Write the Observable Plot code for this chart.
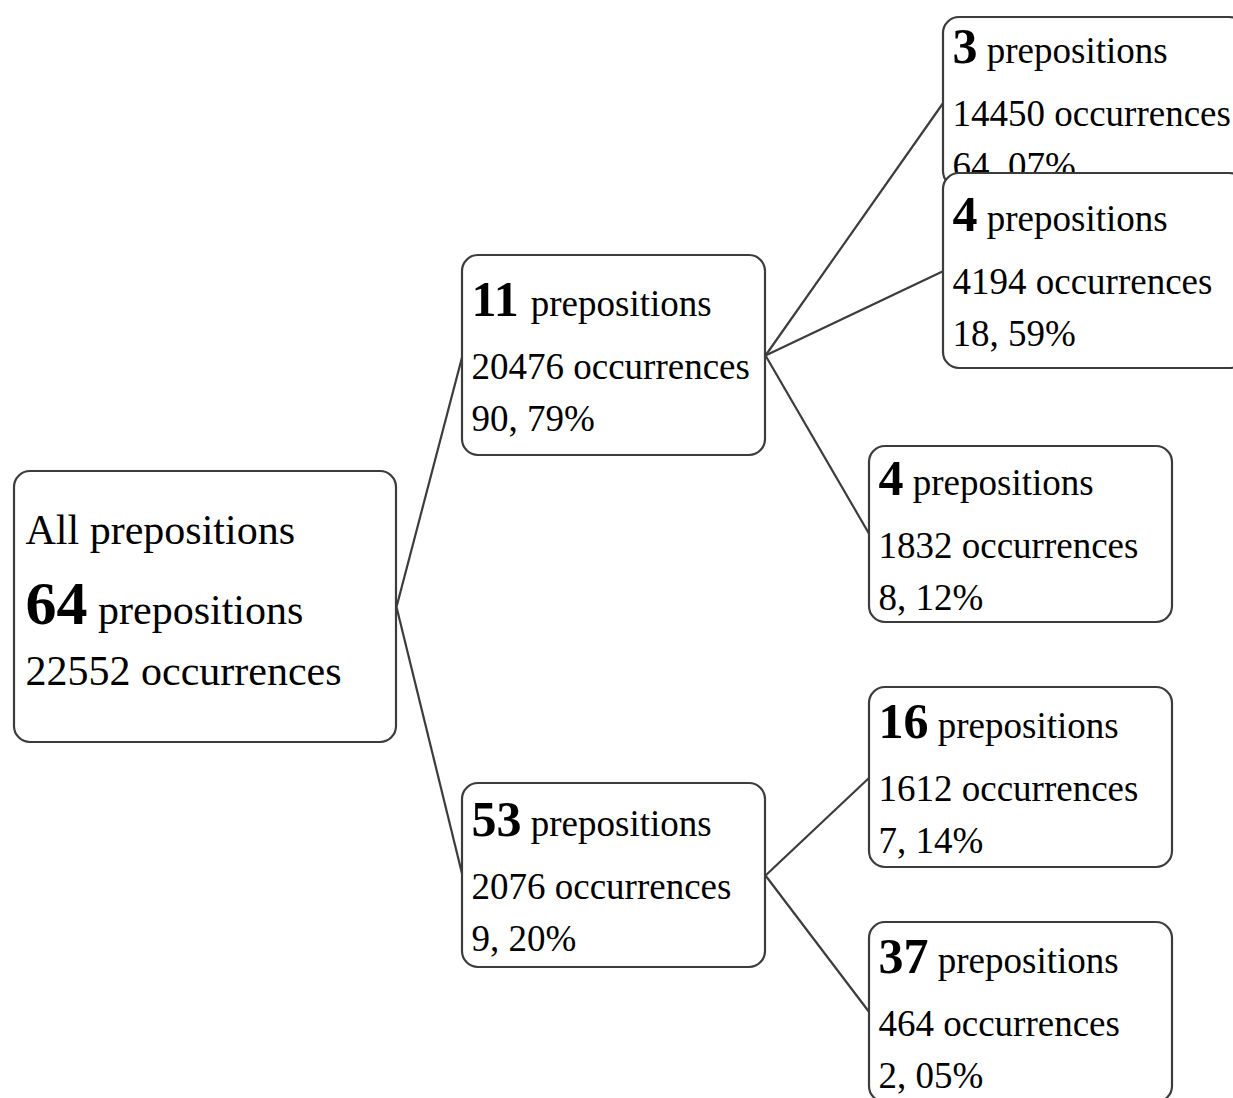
<!DOCTYPE html>
<html>
<head>
<meta charset="utf-8">
<script src="https://cdn.jsdelivr.net/npm/d3@7"></script>
<script src="https://cdn.jsdelivr.net/npm/@observablehq/plot@0.6"></script>
<style>
  html, body { margin: 0; padding: 0; background: white; overflow: hidden; }
  #chart svg { display: block; }
  #chart svg text { font-family: "Times New Roman", Times, "Liberation Serif", Tinos, "Nimbus Roman", serif; }
</style>
</head>
<body>
<div id="chart"></div>
<script>
// ---- data ----
const nodeIds     = ["all", "n11", "n53", "n3", "n4a", "n4b", "n16", "n37"];
const parentIds   = [null, "all", "all", "n11", "n11", "n11", "n53", "n53"];
const prepCounts  = [64, 11, 53, 3, 4, 4, 16, 37];
const occurrences = [22552, 20476, 2076, 14450, 4194, 1832, 1612, 464];
const shares      = [null, 90.79, 9.20, 64.07, 18.59, 8.12, 7.14, 2.05];
const rootTitle   = "All prepositions";

// ---- layout (box edges in page pixels) ----
const boxLeft   = [14, 462, 462, 943, 943, 869, 869, 869];
const boxRight  = [396, 765, 765, 1245, 1245, 1172, 1172, 1172];
const boxTop    = [471, 255, 783, 17, 173, 446, 687, 922];
const boxBottom = [742, 455, 967, 187, 368, 622, 867, 1102];

const W = 1233, H = 1098;
const ink = "#3c3c3c";
const font = "Times New Roman, Times, Liberation Serif, Tinos, Nimbus Roman, serif";

const nodes = nodeIds.map((id, i) => ({
  id, parent: parentIds[i], count: prepCounts[i], occ: occurrences[i], share: shares[i],
  x1: boxLeft[i], x2: boxRight[i], y1: boxTop[i], y2: boxBottom[i],
  cy: (boxTop[i] + boxBottom[i]) / 2, root: i === 0
}));
const byId = new Map(nodes.map(d => [d.id, d]));
const links = nodes.filter(d => d.parent).map(d => {
  const p = byId.get(d.parent);
  return {x1: p.x2, y1: p.cy, x2: d.x1, y2: d.cy};
});

const fmtShare = v => v.toFixed(2).replace(".", ", ") + "%";

const marks = [
  Plot.link(links, {x1: "x1", y1: "y1", x2: "x2", y2: "y2", stroke: ink, strokeWidth: 2.2})
];

for (const d of nodes) {
  marks.push(Plot.rect([d], {x1: "x1", x2: "x2", y1: "y1", y2: "y2", rx: 16, ry: 16,
    fill: "white", stroke: ink, strokeWidth: 2.2}));
  const pad = d.root ? 11 : 9;
  const normalSize = d.root ? 42 : 37;
  const boldSize = d.root ? 62 : 50;
  let normal, bold;
  const numW = String(d.count).length * 0.5 * boldSize + 0.25 * normalSize;
  if (d.root) {
    normal = [
      {x: d.x1 + pad, y: d.cy - 63, t: rootTitle},
      {x: d.x1 + pad + numW, y: d.cy + 17, t: "prepositions"},
      {x: d.x1 + pad, y: d.cy + 78, t: `${d.occ} occurrences`}
    ];
    bold = [{x: d.x1 + pad, y: d.cy + 17, t: String(d.count)}];
  } else {
    normal = [
      {x: d.x1 + pad + numW, y: d.cy - 40, t: "prepositions"},
      {x: d.x1 + pad, y: d.cy + 23, t: `${d.occ} occurrences`},
      {x: d.x1 + pad, y: d.cy + 75, t: fmtShare(d.share)}
    ];
    bold = [{x: d.x1 + pad, y: d.cy - 40, t: String(d.count)}];
  }
  marks.push(Plot.text(normal, {x: "x", y: "y", text: "t", textAnchor: "start", lineAnchor: "bottom",
    fontSize: normalSize, fontFamily: font, fill: "black"}));
  marks.push(Plot.text(bold, {x: "x", y: "y", text: "t", textAnchor: "start", lineAnchor: "bottom",
    fontSize: boldSize, fontWeight: "bold", fontFamily: font, fill: "black"}));
}

const chart = Plot.plot({
  width: W,
  height: H,
  margin: 0,
  x: {domain: [0, W], range: [0, W], axis: null},
  y: {domain: [0, H], range: [0, H], axis: null},
  style: {fontFamily: font, background: "white", overflow: "hidden"},
  marks
});
document.getElementById("chart").appendChild(chart);
</script>
</body>
</html>
